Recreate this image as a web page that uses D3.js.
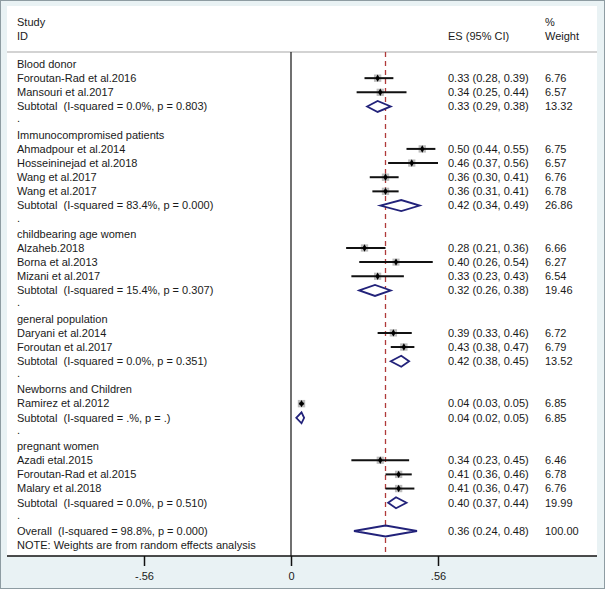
<!DOCTYPE html>
<html><head><meta charset="utf-8">
<script src="https://cdn.jsdelivr.net/npm/d3@7/dist/d3.min.js"></script>
<style>
html,body{margin:0;padding:0;background:#fff;}
svg text{font-family:Arial,"Liberation Sans",sans-serif;white-space:pre;fill:#1a1a1a;}
</style></head>
<body><svg id="c" width="605" height="589"></svg>
<script>
const rowLabels = [
 "Blood donor","Foroutan-Rad et al.2016","Mansouri et al.2017","Subtotal  (I-squared = 0.0%, p = 0.803)",".",
 "Immunocompromised patients","Ahmadpour et al.2014","Hosseininejad et al.2018","Wang et al.2017","Wang et al.2017","Subtotal  (I-squared = 83.4%, p = 0.000)",".",
 "childbearing age women","Alzaheb.2018","Borna et al.2013","Mizani et al.2017","Subtotal  (I-squared = 15.4%, p = 0.307)",".",
 "general population","Daryani et al.2014","Foroutan et al.2017","Subtotal  (I-squared = 0.0%, p = 0.351)",".",
 "Newborns and Children","Ramirez et al.2012","Subtotal  (I-squared = .%, p = .)",".",
 "pregnant women","Azadi etal.2015","Foroutan-Rad et al.2015","Malary et al.2018","Subtotal  (I-squared = 0.0%, p = 0.510)",".",
 "Overall  (I-squared = 98.8%, p = 0.000)","NOTE: Weights are from random effects analysis"
];
const rowTypes = [
 "group","study","study","sub","dot",
 "group","study","study","study","study","sub","dot",
 "group","study","study","study","sub","dot",
 "group","study","study","sub","dot",
 "group","study","sub","dot",
 "group","study","study","study","sub","dot",
 "sub","note"
];
const rowES = [null,0.33,0.34,0.33,null, null,0.50,0.46,0.36,0.36,0.42,null, null,0.28,0.40,0.33,0.32,null, null,0.39,0.43,0.42,null, null,0.04,0.04,null, null,0.34,0.41,0.41,0.40,null, 0.36,null];
const rowLo = [null,0.28,0.25,0.29,null, null,0.44,0.37,0.30,0.31,0.34,null, null,0.21,0.26,0.23,0.26,null, null,0.33,0.38,0.38,null, null,0.03,0.02,null, null,0.23,0.36,0.36,0.37,null, 0.24,null];
const rowHi = [null,0.39,0.44,0.38,null, null,0.55,0.56,0.41,0.41,0.49,null, null,0.36,0.54,0.43,0.38,null, null,0.46,0.47,0.45,null, null,0.05,0.05,null, null,0.45,0.46,0.47,0.44,null, 0.48,null];
const rowWeight = [null,6.76,6.57,13.32,null, null,6.75,6.57,6.76,6.78,26.86,null, null,6.66,6.27,6.54,19.46,null, null,6.72,6.79,13.52,null, null,6.85,6.85,null, null,6.46,6.78,6.76,19.99,null, 100.00,null];
const overallES = 0.36;
const tickValues = [-0.56, 0, 0.56];
const tickLabels = ["-.56", "0", ".56"];

const svg = d3.select("#c");
const W = 605, H = 589;
// background frame
svg.append("rect").attr("x",0.5).attr("y",0.5).attr("width",W-1).attr("height",H-1)
  .attr("fill","#e9f2f4").attr("stroke","#8e9ca2");
const plotL = 7, plotR = 597, plotT = 6, axisY = 556, headY = 52;
svg.append("rect").attr("x",plotL).attr("y",plotT).attr("width",plotR-plotL).attr("height",axisY-plotT).attr("fill","#fff");

const x = d3.scaleLinear().domain([0, 0.56]).range([291, 438]);
const y = d3.scaleLinear().domain([0, 33]).range([64, 531]);

// header
const tx = 17, esX = 448, wX = 545;
svg.append("text").attr("x",tx).attr("y",22).attr("dy","0.35em").attr("font-size",11).text("Study");
svg.append("text").attr("x",tx).attr("y",36).attr("dy","0.35em").attr("font-size",11).text("ID");
svg.append("text").attr("x",esX).attr("y",36).attr("dy","0.35em").attr("font-size",11).text("ES (95% CI)");
svg.append("text").attr("x",wX).attr("y",22).attr("dy","0.35em").attr("font-size",11).text("%");
svg.append("text").attr("x",wX).attr("y",36).attr("dy","0.35em").attr("font-size",11).text("Weight");
svg.append("line").attr("x1",plotL).attr("x2",plotR).attr("y1",headY).attr("y2",headY).attr("stroke","#a8a8a8").attr("stroke-width",1.2);

// null line
svg.append("line").attr("x1",x(0)).attr("x2",x(0)).attr("y1",headY).attr("y2",axisY).attr("stroke","#111").attr("stroke-width",1.2);
// overall dashed line
svg.append("line").attr("x1",x(overallES)).attr("x2",x(overallES)).attr("y1",headY).attr("y2",axisY)
  .attr("stroke","#b03a3a").attr("stroke-width",1.3).attr("stroke-dasharray","5,4");

// rows
rowLabels.forEach((lab,i)=>{
  const t = rowTypes[i];
  const yy = y(i);
  svg.append("text").attr("x",tx).attr("y", t==="dot" ? yy-2 : yy).attr("dy","0.35em").attr("font-size",11).text(lab);
  if (rowES[i]==null) return;
  const es = rowES[i], lo = rowLo[i], hi = rowHi[i], w = rowWeight[i];
  if (t==="study") {
    const s = 7.4*Math.sqrt(w/6.85);
    svg.append("rect").attr("x",x(es)-s/2).attr("y",yy-s/2).attr("width",s).attr("height",s).attr("fill","#bdbdbd");
    svg.append("line").attr("x1",x(lo)).attr("x2",x(hi)).attr("y1",yy).attr("y2",yy).attr("stroke","#111").attr("stroke-width",2);
    svg.append("path").attr("d",d3.symbol(d3.symbolDiamond,16)()).attr("transform",`translate(${x(es)},${yy})`).attr("fill","#000");
  } else {
    const h = 5.5;
    const pts = [[x(lo),yy],[x(es),yy-h],[x(hi),yy],[x(es),yy+h]];
    svg.append("path").attr("d","M"+pts.map(p=>p.join(",")).join("L")+"Z")
      .attr("fill","#fff").attr("stroke","#22227a").attr("stroke-width",1.8);
  }
  svg.append("text").attr("x",esX).attr("y",yy).attr("dy","0.35em").attr("font-size",11)
    .text(`${es.toFixed(2)} (${lo.toFixed(2)}, ${hi.toFixed(2)})`);
  svg.append("text").attr("x",wX).attr("y",yy).attr("dy","0.35em").attr("font-size",11).text(w.toFixed(2));
});

// axis
svg.append("line").attr("x1",plotL).attr("x2",plotR).attr("y1",axisY).attr("y2",axisY).attr("stroke","#111").attr("stroke-width",1.3);
const ax = d3.axisBottom(x).tickValues(tickValues).tickFormat((d,i)=>tickLabels[i]).tickSize(10).tickSizeOuter(0).tickPadding(6);
const g = svg.append("g").attr("transform",`translate(0,${axisY})`).call(ax);
g.select(".domain").remove();
g.selectAll(".tick line").attr("stroke","#111").attr("stroke-width",1.5);
g.selectAll(".tick text").attr("font-size",11).attr("fill","#1a1a1a").attr("font-family","Arial, 'Liberation Sans', sans-serif");
</script></body></html>
